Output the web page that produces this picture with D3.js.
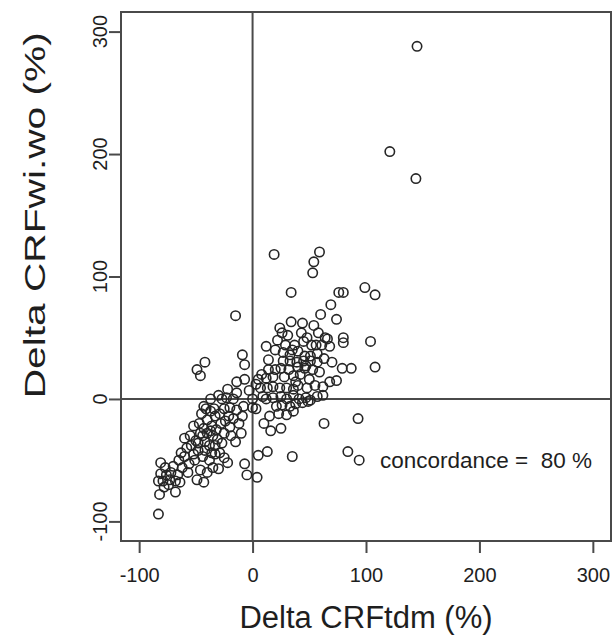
<!DOCTYPE html>
<html>
<head>
<meta charset="utf-8">
<script src="https://cdn.jsdelivr.net/npm/d3@7"></script>
<style>
  body { margin: 0; background: #fff; }
  svg { display: block; font-family: "Liberation Sans", Arial, sans-serif; }
</style>
</head>
<body>
<div id="chart"></div>
<script>
// values, one x/y pair per circle
const deltaTdm = [
  145, 121, 144,
  19, 59, 54, 53, 34, 76, 80, 99, 108,
  69, 60, 74, 34, 44, 54, 26, 43, 64, 80, 104,
  12, 29, 37, 45, 52, 56, 61, 66, 68, 80,
  27, 33, 40, 46, 51, 57,
  27, 33, 39, 45, 51, 57,
  14, 20, 25, 32, 40, 46, 53, 79, 87, 108,
  68, 74, 5, 12, 18,
  7, 13, 18, 24, 30, 36, 40, 48, 55, 62,
  9, 12, 18, 25, 30, 36, 41, 47, 51, 57, 62,
  21, 26, 33, 38, 44, 49,
  15, 23, 30, 36,
  22, 31, 48, 35, 42, 50, 28, 36, 59, 63, 70, 14, 20, 8, 3, 58, 24, 47, 38,
  63, 93, 16, 25, 5, 13, 35, 84, 94, 10, 3,
  -15, -9, -7, -42, -49, -46, -14, -7, -3, -14, -22, -30,
  0, 0,
  -83,
  -82, -68,
  -83, -79, -73, -68, -64,
  -81, -76, -72,
  -81, -77,
  -70, -65, -60, -56, -52,
  -49, -43,
  -46, -40, -35, -30,
  -63, -58, -54, -48, -44, -38, -33, -29, -25, -22,
  -60, -55, -50, -46, -42, -38, -35, -31, -27,
  -52, -47, -43, -40, -36, -32, -28, -24, -20,
  -45, -41, -37, -33, -29, -25, -21, -17,
  -15, -10, -12,
  -43, -37, -34, -27, -23, -17, -20, -14, -8,
  -7, -5, 4,
  -42, -36, -48, -40, -33, -44, -37, -51, -57, -62, -66, -74, -78, -19, -25, -9
];
const deltaWiWo = [
  288, 202, 180,
  118, 120, 112, 103, 87, 87, 87, 91, 85,
  77, 69, 65, 63, 62, 60, 54, 54, 50, 50, 47,
  43, 44, 44, 47, 44, 44, 44, 49, 43, 46,
  38, 36, 39, 35, 35, 37,
  31, 31, 30, 31, 31, 30,
  24, 24, 25, 24, 26, 25, 24, 25, 25, 26,
  14, 15, 16, 17, 18,
  9, 9, 10, 9, 9, 8, 11, 9, 11, 10,
  2, 0, 1, 2, 0, 3, 0, 1, -1, 2, 3,
  -6, -5, -6, -4, -3, -2,
  -14, -12, -13, -10,
  48, 52, 50, 40, 20, 16, 18, 19, 22, 33, 30, 32, 40, 20, 12, 54, 58, 27, 14,
  -20, -16, -26, -24, -46, -43, -47, -43, -50, -20, -8,
  68, 36, 28, 30, 24, 19, 14, 16, 7, 5, 8, 3,
  0, -7,
  -94,
  -78, -76,
  -67, -67, -66, -67, -68,
  -61, -62, -60,
  -52, -56,
  -55, -50, -47, -53, -45,
  -66, -68,
  -58, -60, -56, -57,
  -44, -40, -38, -42, -47, -50, -45, -44, -48, -52,
  -32, -30, -34, -28, -35, -38, -30, -33, -36,
  -22, -20, -24, -17, -22, -25, -20, -18, -23,
  -12, -8, -10, -14, -12, -8, -14, -16,
  -35, -28, -20,
  -6, 0, -8, 0, 1, 0, -7, -9, -6,
  -53, -62, -64,
  -42, -44, -36, -28, -38, -30, -26, -50, -60, -56, -62, -70, -72, -30, -28, -14
];
const tickValues = [-100, 0, 100, 200, 300];
const xTitle = "Delta CRFtdm (%)";
const yTitle = "Delta CRFwi.wo (%)";
const note = "concordance =  80 %";

const points = deltaTdm.map((d, i) => ({ x: d, y: deltaWiWo[i] }));

const width = 616;
const height = 642;
const margin = { top: 12, left: 121, bottom: 101, right: 5 };

const svg = d3.select("#chart").append("svg")
    .attr("width", width)
    .attr("height", height);

const x = d3.scaleLinear()
    .domain([-116, 316])
    .range([margin.left, width - margin.right]);

const y = d3.scaleLinear()
    .domain([-116, 316])
    .range([height - margin.bottom, margin.top]);

const ink = "#1e1e1e";
const lineCol = "#4a4a4a";

// reference lines at zero
svg.append("line")
    .attr("x1", x(0)).attr("x2", x(0))
    .attr("y1", y.range()[1]).attr("y2", y.range()[0])
    .attr("stroke", lineCol).attr("stroke-width", 2);
svg.append("line")
    .attr("x1", x.range()[0]).attr("x2", x.range()[1])
    .attr("y1", y(0)).attr("y2", y(0))
    .attr("stroke", lineCol).attr("stroke-width", 2);

svg.append("g").selectAll("circle")
    .data(points)
    .enter().append("circle")
    .attr("cx", d => x(d.x))
    .attr("cy", d => y(d.y))
    .attr("r", 4.7)
    .attr("fill", "none")
    .attr("stroke", "#262626")
    .attr("stroke-width", 1.6);

// box
svg.append("rect")
    .attr("x", x.range()[0])
    .attr("y", y.range()[1])
    .attr("width", x.range()[1] - x.range()[0])
    .attr("height", y.range()[0] - y.range()[1])
    .attr("fill", "none")
    .attr("stroke", lineCol)
    .attr("stroke-width", 2);

const xAxis = svg.append("g")
    .attr("transform", `translate(0,${y.range()[0]})`)
    .call(d3.axisBottom(x).tickValues(tickValues).tickSize(12).tickPadding(15).tickFormat(d => String(d)));
xAxis.select(".domain").remove();
xAxis.selectAll("line").attr("stroke", lineCol).attr("stroke-width", 2);
xAxis.selectAll("text").attr("font-size", 20).attr("fill", ink)
    .attr("font-family", "Liberation Sans, Arial, sans-serif");

const yAxis = svg.append("g")
    .attr("transform", `translate(${x.range()[0]},0)`)
    .call(d3.axisLeft(y).tickValues(tickValues).tickSize(12).tickFormat(""));
yAxis.select(".domain").remove();
yAxis.selectAll("line").attr("stroke", lineCol).attr("stroke-width", 2);

svg.append("g").selectAll("text")
    .data(tickValues)
    .enter().append("text")
    .attr("transform", d => `translate(107,${y(d)}) rotate(-90)`)
    .attr("text-anchor", "middle")
    .attr("font-size", 20)
    .attr("fill", ink)
    .text(d => String(d));

svg.append("text")
    .attr("x", (x.range()[0] + x.range()[1]) / 2)
    .attr("y", 628)
    .attr("text-anchor", "middle")
    .attr("font-size", 31)
    .attr("fill", ink)
    .text(xTitle);

// the y title in the picture is stretched along its length
svg.append("text")
    .attr("transform", `translate(45,${y(150)}) rotate(-90)`)
    .attr("text-anchor", "middle")
    .attr("font-size", 29)
    .attr("fill", ink)
    .attr("textLength", 366)
    .attr("lengthAdjust", "spacingAndGlyphs")
    .text(yTitle);

svg.append("text")
    .attr("x", 380)
    .attr("y", 468)
    .attr("font-size", 22.5)
    .attr("fill", ink)
    .style("white-space", "pre")
    .text(note);
</script>
</body>
</html>
